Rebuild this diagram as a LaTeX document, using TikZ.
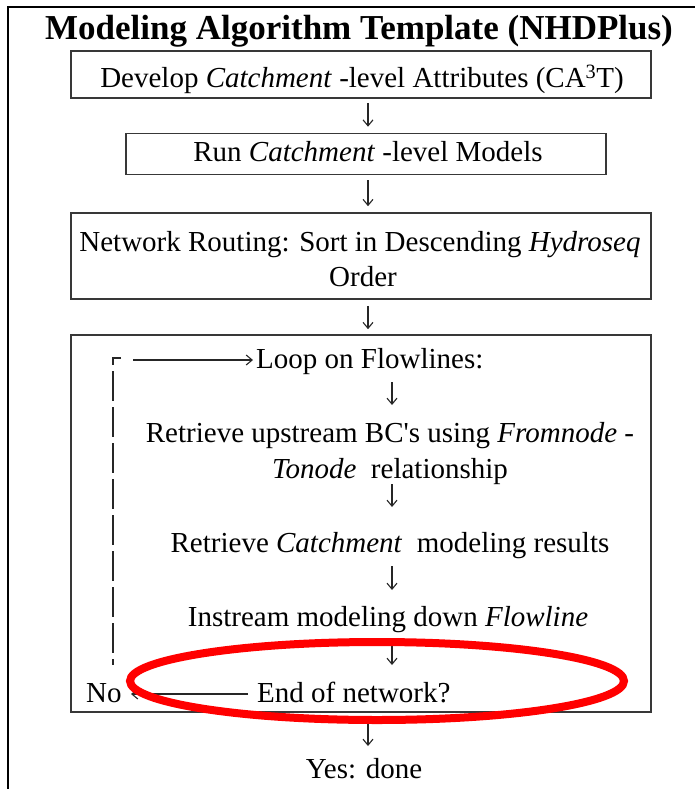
\documentclass[tikz,border=0pt]{standalone}
\usepackage{fontspec}
\setmainfont{Liberation Serif}[Ligatures=TeXOff]
\usetikzlibrary{arrows.meta,calc}
\begin{document}
\begin{tikzpicture}[x=1pt,y=-1pt,
  box/.style={draw=black!78,line width=1.6pt,inner sep=0pt,font=\fontsize{29}{34}\selectfont},
  txt/.style={inner sep=0pt,font=\fontsize{29}{34}\selectfont},
  arr/.style={line width=1.1pt,draw=black!85,-{Straight Barb[length=6pt,width=10pt,line width=1.1pt]}},
  loopline/.style={line width=2pt,draw=black!85,dash pattern=on 30pt off 6pt}]
\useasboundingbox (0,0) rectangle (695,789);
% outer frame (only top and left visible)
\draw[line width=2.6pt] (695,7) -- (8,7) -- (8,789);
% title
\node[txt,anchor=base,font=\fontsize{35}{40}\selectfont\bfseries] (title) at (359,40) {Modeling Algorithm Template (NHDPlus)};
% boxes
\node[box,minimum width=580pt,minimum height=47pt] (b1) at (361,74.5) {};
\node[txt,anchor=base] (t1) at (362,88) {Develop \textit{Catchment} -level Attributes (CA\textsuperscript{3}T)};
\node[box,minimum width=480pt,minimum height=41pt] (b2) at (366,154) {};
\node[txt,anchor=base] (t2) at (368,161) {Run \textit{Catchment} -level Models};
\node[box,minimum width=580pt,minimum height=86pt] (b3) at (361,256) {};
\node[txt,anchor=base] (t3a) at (360,251) {Network Routing: Sort in Descending \textit{Hydroseq}};
\node[txt,anchor=base] (t3b) at (363,286) {Order};
\node[box,minimum width=580pt,minimum height=377pt] (b4) at (361,523.5) {};
% inner texts
\node[txt,anchor=base west] (loop) at (256,368) {Loop on Flowlines:};
\node[txt,anchor=base] (r1) at (390,442) {Retrieve upstream BC's using \textit{Fromnode} -};
\node[txt,anchor=base] (r1b) at (390,478) {\textit{Tonode}\ \ relationship};
\node[txt,anchor=base] (r2) at (390,552) {Retrieve \textit{Catchment}\ \ modeling results};
\node[txt,anchor=base] (r3) at (388,626) {Instream modeling down \textit{Flowline}};
\node[txt,anchor=base west] (eon) at (257,702) {End of network?};
\node[txt,anchor=base west] (no) at (86,702) {No};
\node[txt,anchor=base] (yes) at (364,778) {Yes: done};
% vertical arrows between boxes
\coordinate (ax) at (368,0);
\coordinate (ix) at (392,0);
\draw[arr] ($(b1.south -| ax)+(0,4)$) -- ($(b2.north -| ax)+(0,-6)$);
\draw[arr] ($(b2.south -| ax)+(0,5)$) -- ($(b3.north -| ax)+(0,-6)$);
\draw[arr] ($(b3.south -| ax)+(0,6)$) -- ($(b4.north -| ax)+(0,-5)$);
\draw[arr] ($(b4.south -| ax)+(0,8)$) -- ($(yes.base -| ax)+(0,-32)$);
% inner arrows
\draw[arr] ($(loop.base -| ix)+(0,14)$) -- ($(r1.base -| ix)+(0,-37)$);
\draw[arr] ($(r1b.base -| ix)+(0,6)$) -- ($(r2.base -| ix)+(0,-45)$);
\draw[arr] ($(r2.base -| ix)+(0,14)$) -- ($(r3.base -| ix)+(0,-36)$);
\draw[arr] ($(r3.base -| ix)+(0,16)$) -- ($(eon.base -| ix)+(0,-37)$);
% loop back path
\coordinate (lb) at (113,665);
\coordinate (lt) at (113,358);
\coordinate (lc) at (121,358);
\coordinate (ld) at (113,365);
\coordinate (lds) at (113,371);
\draw[line width=2pt,draw=black!85] (lc) -- (lt) -- (ld);
\draw[loopline] (lds) -- (lb);
\coordinate (ls) at (133,360);
\draw[arr,shorten >=3pt] (ls) -- (loop.west |- ls);
\coordinate (ne) at (248,694);
\draw[arr] (ne) -- (131,694);
% red highlight ellipse
\draw[red,line width=8pt] (377,681) ellipse [x radius=247pt,y radius=39pt];
\end{tikzpicture}
\end{document}
